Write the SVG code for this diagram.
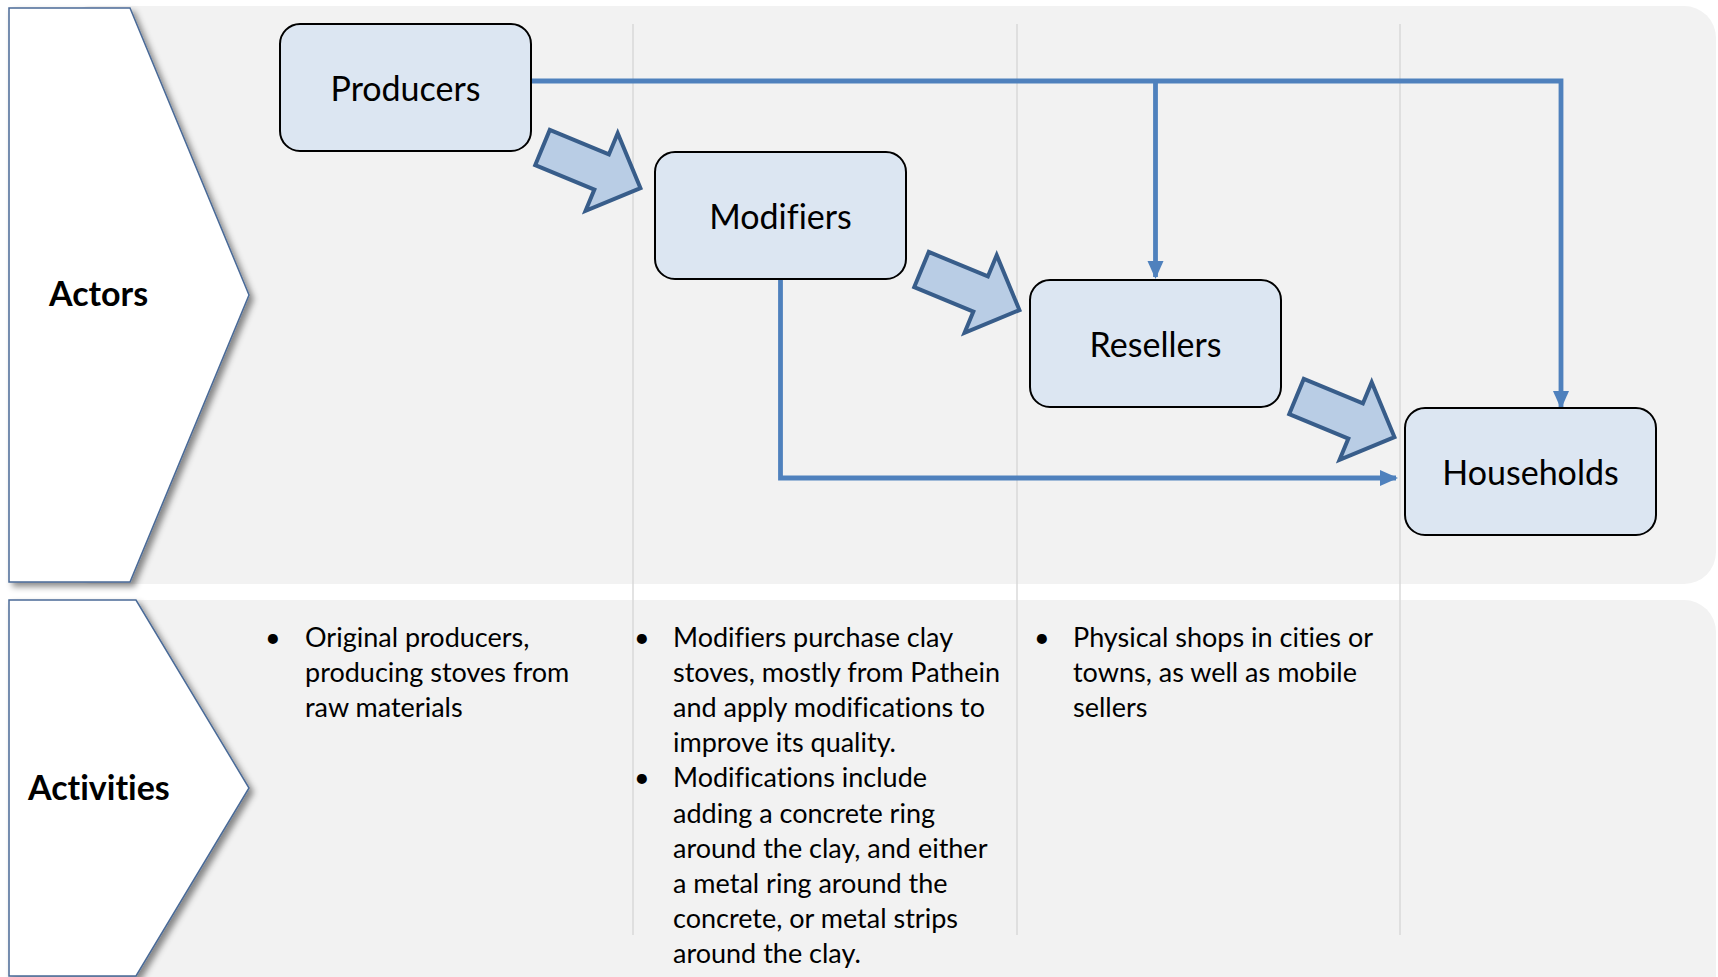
<svg xmlns="http://www.w3.org/2000/svg" width="1718" height="977" viewBox="0 0 1718 977">
  <style>
    .band { fill: #F2F2F2; }
    .divider { stroke: #D4D4D4; stroke-width: 1.3; }
    .chevron { fill: #FFFFFF; stroke: #4A6A97; stroke-width: 1.5; }
    text { font-variant-ligatures: none; }
    .label { font-family: Lato, "Open Sans", sans-serif; font-weight: bold; font-size: 34px; fill: #000; }
    .box { fill: #DCE6F2; stroke: #000; stroke-width: 2; }
    .boxtext { font-family: Lato, "Open Sans", sans-serif; font-size: 34px; fill: #000; text-anchor: middle; }
    .body { font-family: Lato, "Open Sans", sans-serif; font-size: 27px; fill: #000; }
    .flow { fill: #B9CDE5; stroke: #385D8A; stroke-width: 4; stroke-linejoin: miter; }
    .conn { fill: none; stroke: #4F81BD; stroke-width: 4.8; }
  </style>
  <defs>
    <filter id="shadow" x="-10%" y="-10%" width="130%" height="130%">
      <feDropShadow dx="4" dy="4" stdDeviation="3" flood-color="#000" flood-opacity="0.45"/>
    </filter>
    <marker id="tip" markerUnits="userSpaceOnUse" markerWidth="18" markerHeight="18" viewBox="0 0 18 18" refX="16" refY="9" orient="auto">
      <path d="M0,1 L18,9 L0,17 Z" fill="#4F81BD"/>
    </marker>
    <path id="blockArrow" d="M0,-19 L64,-19 L64,-42 L106,0 L64,42 L64,19 L0,19 Z"/>
  </defs>

  <!-- background bands -->
  <rect class="band" x="60" y="6" width="1656" height="578" rx="32"/>
  <rect class="band" x="60" y="600" width="1656" height="420" rx="32"/>

  <!-- column dividers -->
  <g id="dividers">
    <line class="divider" x1="633" y1="24" x2="633" y2="935"/>
    <line class="divider" x1="1017" y1="24" x2="1017" y2="935"/>
    <line class="divider" x1="1400" y1="24" x2="1400" y2="935"/>
  </g>

  <!-- row headers -->
  <g id="actors-header">
    <polygon class="chevron" filter="url(#shadow)" points="9,8 130,8 249,295 130,582 9,582"/>
    <text class="label" x="49" y="306">Actors</text>
  </g>
  <g id="activities-header">
    <polygon class="chevron" filter="url(#shadow)" points="9,600 136,600 249,788 136,976 9,976"/>
    <text class="label" x="28" y="800">Activities</text>
  </g>

  <!-- connectors -->
  <g id="connectors">
    <use href="#blockArrow" class="flow" transform="translate(542.5,147.5) rotate(22.5)"/>
    <use href="#blockArrow" class="flow" transform="translate(921.5,269.5) rotate(22.5)"/>
    <use href="#blockArrow" class="flow" transform="translate(1296.5,396.5) rotate(22.5)"/>
    <polyline class="conn" points="531,81 1561,81 1561,407" marker-end="url(#tip)"/>
    <line class="conn" x1="1155.5" y1="81" x2="1155.5" y2="277" marker-end="url(#tip)"/>
    <polyline class="conn" points="780.5,279 780.5,478 1396,478" marker-end="url(#tip)"/>
  </g>

  <!-- actor nodes -->
  <g id="producers">
    <rect class="box" x="280" y="24" width="251" height="127" rx="20"/>
    <text class="boxtext" x="405.5" y="100.5">Producers</text>
  </g>
  <g id="modifiers">
    <rect class="box" x="655" y="152" width="251" height="127" rx="20"/>
    <text class="boxtext" x="780.5" y="228.5">Modifiers</text>
  </g>
  <g id="resellers">
    <rect class="box" x="1030" y="280" width="251" height="127" rx="20"/>
    <text class="boxtext" x="1155.5" y="356.5">Resellers</text>
  </g>
  <g id="households">
    <rect class="box" x="1405" y="408" width="251" height="127" rx="20"/>
    <text class="boxtext" x="1530.5" y="484.5">Households</text>
  </g>

  <!-- activity descriptions -->
  <g id="producers-activities">
    <text class="body" x="265" y="646.5">•</text>
    <text class="body">
      <tspan x="305" y="646.5">Original producers,</tspan>
      <tspan x="305" y="681.7">producing stoves from</tspan>
      <tspan x="305" y="716.9">raw materials</tspan>
    </text>
  </g>
  <g id="modifiers-activities">
    <text class="body" x="634" y="646.5">•</text>
    <text class="body" x="634" y="787.3">•</text>
    <text class="body">
      <tspan x="673" y="646.5">Modifiers purchase clay</tspan>
      <tspan x="673" y="681.7">stoves, mostly from Pathein</tspan>
      <tspan x="673" y="716.9">and apply modifications to</tspan>
      <tspan x="673" y="752.1">improve its quality.</tspan>
      <tspan x="673" y="787.3">Modifications include</tspan>
      <tspan x="673" y="822.5">adding a concrete ring</tspan>
      <tspan x="673" y="857.7">around the clay, and either</tspan>
      <tspan x="673" y="892.9">a metal ring around the</tspan>
      <tspan x="673" y="928.1">concrete, or metal strips</tspan>
      <tspan x="673" y="963.3">around the clay.</tspan>
    </text>
  </g>
  <g id="resellers-activities">
    <text class="body" x="1034" y="646.5">•</text>
    <text class="body">
      <tspan x="1073" y="646.5">Physical shops in cities or</tspan>
      <tspan x="1073" y="681.7">towns, as well as mobile</tspan>
      <tspan x="1073" y="716.9">sellers</tspan>
    </text>
  </g>
</svg>
